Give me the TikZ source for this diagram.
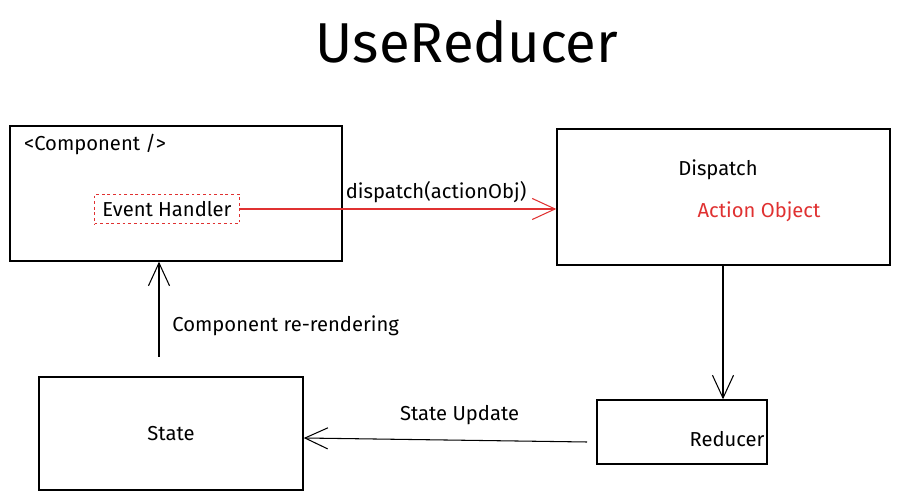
\documentclass[tikz,border=0pt]{standalone}
\usepackage{fontspec}
\setmainfont{Fira Sans}
\usepackage{tikz}
\usetikzlibrary{arrows.meta}
\usetikzlibrary{positioning}
\tikzset{basic box/.style={draw,thick,rectangle,inner sep=0pt}}
\tikzset{flow/.style={draw,
                      semithick,
                      -{Straight Barb[length=13pt,width=12pt]}}}
\tikzset{caption/.style={font=\fontsize{11.5}{13}\selectfont}}
\definecolor{sketchred}{RGB}{224,49,49}

\begin{document}
\begin{tikzpicture}
      [
      x=0.02cm,y=-0.02cm,
      my box/.style={basic box,
      fill=white},
      ]
      \useasboundingbox (0,0) rectangle (900,499);

      % title
      \node [font=\fontsize{32}{36}\selectfont] (title) at (467,42) {UseReducer};

      % boxes
      \node [my box,minimum width=332*0.02cm,minimum height=135*0.02cm] (comp) at (176,193.5) {};
      \node [my box,minimum width=333*0.02cm,minimum height=136*0.02cm] (disp) at (723.5,197) {};
      \node [my box,minimum width=264*0.02cm,minimum height=113*0.02cm] (state) at (171,433.5) {};
      \node [my box,minimum width=170*0.02cm,minimum height=64*0.02cm] (red) at (682,432) {};

      % texts
      \node [caption,anchor=west] (comptxt) at (18,145) {<Component />};
      \node [caption,draw=sketchred,semithick,dash pattern=on 1.6pt off 1.6pt,inner xsep=4.5pt,inner ysep=4pt] (handler) at (167,209) {Event Handler};
      \node [caption] (disptxt) at (718,170) {Dispatch};
      \node [caption,text=sketchred] (action) at (759,212) {Action Object};
      \node [caption] (statetxt) at (state) {State};
      \node [caption] (redtxt) at (727,439) {Reducer};

      % connectors
      \path [flow,color=sketchred] (handler.east) -- (disp.west |- handler.east)
      node [pos=0.62,above,caption,text=black] {dispatch(actionObj)};

      \path [flow] (723,265) -- (red.north -| 723,265);

      \path [flow] (587,442) -- (state.east |- 587,438)
      node [pos=0.45,above=5pt,caption] {State Update};

      \path [flow] (159,357) -- (comp.south -| 159,357)
      node [pos=0.33,right=4pt,caption] {Component re-rendering};

    \end{tikzpicture}
\end{document}
